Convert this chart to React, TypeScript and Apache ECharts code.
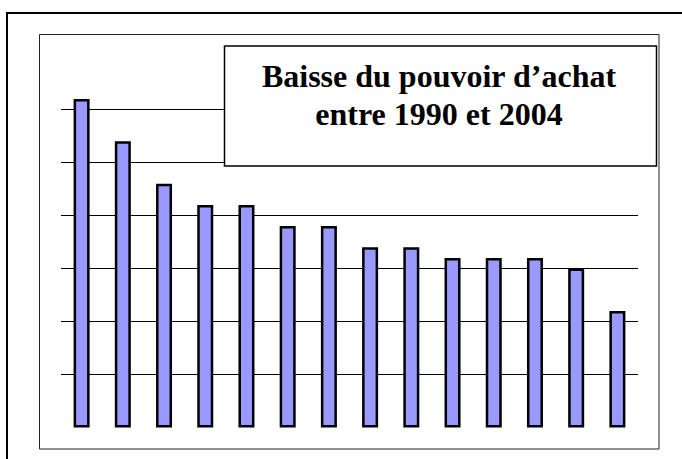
import React, { useEffect, useRef } from "react";
import * as echarts from "echarts";

const categories = ["1", "2", "3", "4", "5", "6", "7", "8", "9", "10", "11", "12", "13", "14"];
const values = [6.2, 5.4, 4.6, 4.2, 4.2, 3.8, 3.8, 3.4, 3.4, 3.2, 3.2, 3.2, 3.0, 2.2];
const titleLines = ["Baisse du pouvoir d’achat", "entre 1990 et 2004"];

export default function App() {
  const ref = useRef<HTMLDivElement>(null);
  useEffect(() => {
    const chart = echarts.init(ref.current!, null, { renderer: "svg" });
    const font = "bold 32px 'Liberation Serif', 'Times New Roman', serif";
    chart.setOption({
      animation: false,
      backgroundColor: "#ffffff",
      grid: { left: 61, right: 44, top: 56.5, bottom: 31.5 },
      xAxis: {
        type: "category",
        data: categories,
        axisLine: { show: false },
        axisTick: { show: false },
        axisLabel: { show: false },
      },
      yAxis: {
        type: "value",
        min: 0,
        max: 7,
        interval: 1,
        axisLine: { show: false },
        axisTick: { show: false },
        axisLabel: { show: false },
        splitLine: {
          show: true,
          showMinLine: false,
          showMaxLine: false,
          lineStyle: { color: "#000000", width: 1 },
        },
      },
      series: [
        {
          type: "bar",
          data: values,
          barWidth: 16,
          itemStyle: { color: "#9999FF", borderColor: "#000000", borderWidth: 2.5 },
        },
      ],
      graphic: [
        {
          type: "rect",
          z: -1,
          silent: true,
          shape: { x: 7, y: 13, width: 720, height: 520 },
          style: { fill: "none", stroke: "#000000", lineWidth: 2 },
        },
        {
          type: "rect",
          z: -1,
          silent: true,
          shape: { x: 39.5, y: 34.5, width: 619.5, height: 414.5 },
          style: { fill: "none", stroke: "#222222", lineWidth: 1 },
        },
        {
          type: "rect",
          z: 10,
          silent: true,
          shape: { x: 224.5, y: 46, width: 432, height: 120 },
          style: { fill: "#ffffff", stroke: "#000000", lineWidth: 1.5 },
        },
        {
          type: "text",
          z: 11,
          silent: true,
          x: 439,
          y: 76.2,
          style: {
            text: titleLines[0],
            fill: "#000000",
            font,
            textAlign: "center",
            textVerticalAlign: "middle",
          },
        },
        {
          type: "text",
          z: 11,
          silent: true,
          x: 439,
          y: 114.2,
          style: {
            text: titleLines[1],
            fill: "#000000",
            font,
            textAlign: "center",
            textVerticalAlign: "middle",
          },
        },
      ],
    });
    return () => chart.dispose();
  }, []);
  return (
    <div
      ref={ref}
      style={{ position: "absolute", left: 0, top: 0, width: 682, height: 459 }}
    />
  );
}
